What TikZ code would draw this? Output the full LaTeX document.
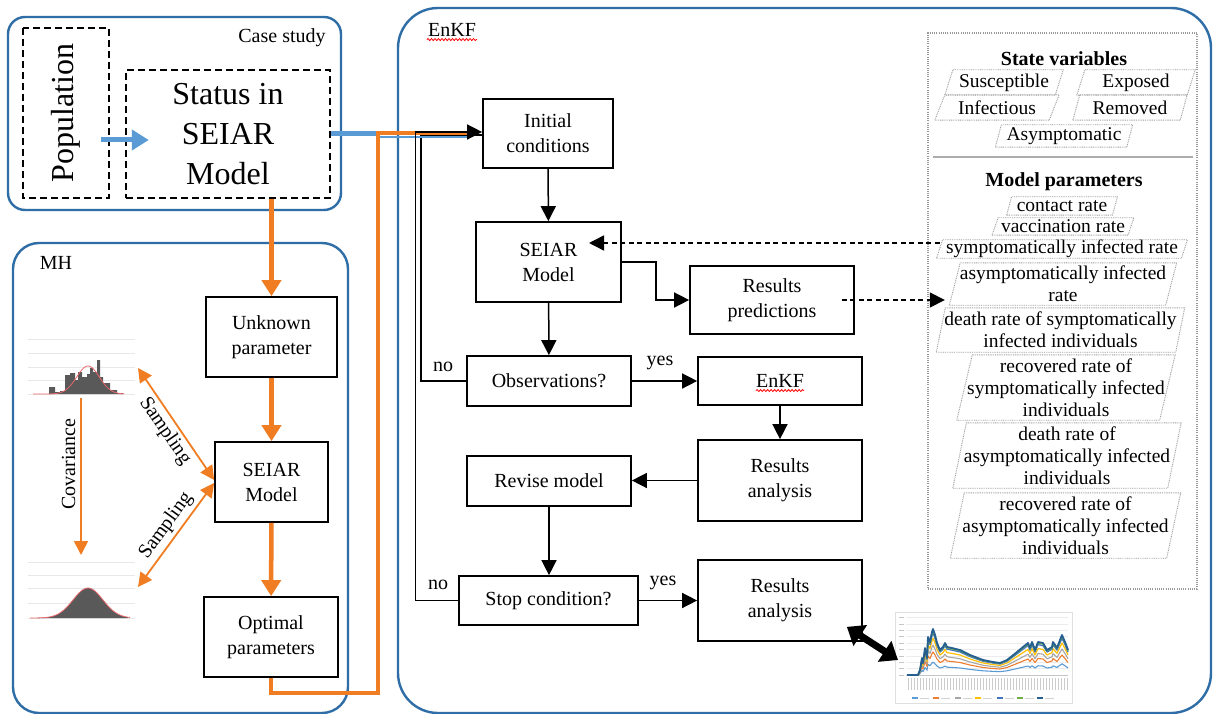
\documentclass[tikz,border=0pt]{standalone}
\usepackage{fontspec}
\setmainfont{Liberation Serif}
\usetikzlibrary{arrows.meta,calc,decorations.pathmorphing}
\definecolor{frameblue}{HTML}{2E6DA6}
\definecolor{flowblue}{HTML}{5B9BD5}
\definecolor{mhorange}{HTML}{F07D22}
\definecolor{histgray}{HTML}{595959}
\definecolor{fitred}{HTML}{E8676B}
\definecolor{gridgray}{HTML}{E8E8E8}
\definecolor{cs1}{HTML}{5B9BD5}
\definecolor{cs2}{HTML}{ED7D31}
\definecolor{cs3}{HTML}{A5A5A5}
\definecolor{cs4}{HTML}{FFC000}
\definecolor{cs5}{HTML}{4472C4}
\definecolor{cs6}{HTML}{70AD47}
\definecolor{cs7}{HTML}{255E91}
\newcommand\fs[2]{\fontsize{#1}{#2}\selectfont}
% slanted (parallelogram) tag: name, x, y, width, height, half slant, text
\newcommand\pgm[7]{%
  \node[ptxt, minimum width=#4pt, minimum height=#5pt] (#1) at (#2,#3) {#7};
  \draw[pline] ([xshift=-#6pt]#1.south west) -- ([xshift=#6pt]#1.north west)
    -- ([xshift=#6pt]#1.north east) -- ([xshift=-#6pt]#1.south east) -- cycle;}
\begin{document}
\begin{tikzpicture}[x=1pt,y=-1pt,
  frame/.style={draw=frameblue, line width=2.4pt},
  dashbox/.style={draw=black, line width=2.4pt, dash pattern=on 7pt off 4pt},
  box/.style={draw=black, line width=1.7pt, align=center, font=\fs{20}{25}, inner sep=1pt},
  lbl/.style={font=\fs{20}{24}, inner sep=1pt},
  flow/.style={draw=black, line width=1.5pt, -{Triangle[length=15pt,width=15pt]}},
  link/.style={draw=black, line width=1.5pt},
  dflow/.style={draw=black, line width=1.5pt, dash pattern=on 5pt off 3.5pt, -{Triangle[length=15pt,width=15pt]}},
  oflow/.style={draw=mhorange, line width=4.5pt, -{Triangle[length=16pt,width=19pt]}},
  othin/.style={draw=mhorange, line width=1.8pt, {Triangle[length=14pt,width=14pt]}-{Triangle[length=14pt,width=14pt]}},
  othinend/.style={draw=mhorange, line width=1.8pt, -{Triangle[length=14pt,width=14pt]}},
  bflow/.style={draw=flowblue, line width=5pt, -{Triangle[length=17pt,width=20pt]}},
  bigarrow/.style={draw=black, line width=7pt, {Triangle[length=16pt,width=24pt]}-{Triangle[length=16pt,width=24pt]}},
  pline/.style={draw=gray!75, line width=0.9pt, dash pattern=on 0.9pt off 0.9pt},
  ptxt/.style={inner sep=0pt, align=center, font=\fs{19.5}{22}},
  spell/.style={draw=red, line width=0.8pt, decorate, decoration={snake, amplitude=1pt, segment length=3.5pt}},
  hgrid/.style={draw=gridgray, line width=0.8pt}
]
\useasboundingbox (0,0) rectangle (1218,714);
\fill[white] (0,0) rectangle (1218,714);
\clip (0,0) rectangle (1218,714);

% ---------- outer frames ----------
\draw[frame, rounded corners=17pt] (8,17) rectangle (341,210);
\draw[frame, rounded corners=26pt] (13,243) rectangle (348,713);
\draw[frame, rounded corners=40pt] (398,8) rectangle (1211,713);
\node[lbl] (cslbl) at (282,38) {Case study};
\node[lbl] (mhlbl) at (56,263) {MH};
\node[lbl] (enkflbl) at (452,30) {EnKF};
\draw[spell] ([yshift=-3pt]enkflbl.base west) -- ([yshift=-3pt]enkflbl.base east);

% ---------- case study ----------
\node[dashbox, rotate=90, minimum width=170pt, minimum height=86pt, font=\fs{32}{38}] (pop) at (66,113) {Population};
\node[dashbox, minimum width=204pt, minimum height=128pt, align=center, inner sep=2pt, font=\fs{32}{40}] (st) at (228,134) {Status in\\SEIAR\\Model};
\draw[bflow] ($(pop.south)+(-9,27)$) -- ($(st.west)+(24,6)$);

% ---------- MH ----------
\node[box, minimum width=131pt, minimum height=80pt] (unk) at (271.5,337) {Unknown\\parameter};
\node[box, minimum width=113pt, minimum height=80pt] (mh) at (271.5,482) {SEIAR\\Model};
\node[box, minimum width=134pt, minimum height=80pt] (opt) at (271,637) {Optimal\\parameters};
\draw[oflow] (st.south -| unk.north) -- (unk.north);
\draw[oflow] (unk) -- (mh);
\draw[oflow] (mh) -- (opt);

% histograms with grid lines
\foreach \gy in {339,353,367,380,394} \draw[hgrid] (28,\gy) -- (135,\gy);
\foreach \gy in {562,575,588,603,618} \draw[hgrid] (28,\gy) -- (135,\gy);
\fill[histgray] (49,394) |- (55,387) |- (60,392) |- (65,391) |- (70,375) |- (75,373)
  |- (78,380) |- (82,372) |- (87,377) |- (90,374) |- (93,368) |- (97,372) |- (100,360)
  |- (103,377) |- (110,383) |- (117,390) |- (123,393) -- (123,394) -- cycle;
\draw[fitred, line width=0.8pt] plot[domain=33:124, samples=60, smooth]
  (\x, {394 - 28*exp(-((\x-88)/16)*((\x-88)/16))});
\fill[histgray] plot[domain=37:128, samples=50] (\x, {618 - 30*exp(-((\x-88)/21)*((\x-88)/21))})
  -- (128,618) -- (37,618) -- cycle;
\draw[fitred, line width=0.8pt] plot[domain=30:130, samples=60, smooth]
  (\x, {618 - 30*exp(-((\x-88)/21)*((\x-88)/21))});

\coordinate (h1) at (138,368);
\coordinate (h2) at (138,587);
\coordinate (c1) at (81,398);
\coordinate (c2) at (81,555);
\draw[othin] (h1) -- ([yshift=2pt]mh.west);
\draw[othin] ([yshift=-1pt]mh.west) -- (h2);
\draw[othinend] (c1) -- (c2);
\node[lbl, rotate=-55.5] (samp1) at (165,431) {Sampling};
\node[lbl, rotate=54] (samp2) at (166,526) {Sampling};
\node[lbl, rotate=90] (cov) at (68.5,464) {Covariance};

% ---------- EnKF flow ----------
\node[box, minimum width=130pt, minimum height=69pt] (init) at (548,133.5) {Initial\\conditions};
\node[box, minimum width=145pt, minimum height=80pt] (seiar) at (548.5,262) {SEIAR\\Model};
\node[box, minimum width=164pt, minimum height=50pt] (obs) at (549,381) {Observations?};
\node[box, minimum width=164pt, minimum height=68pt] (rp) at (772,300) {Results\\predictions};
\node[box, minimum width=164pt, minimum height=48pt] (enkf) at (780,381) {EnKF};
\draw[spell] ([xshift=-24pt,yshift=-3pt]enkf.base) -- ([xshift=24pt,yshift=-3pt]enkf.base);
\node[box, minimum width=164pt, minimum height=81pt] (ra1) at (780,480.5) {Results\\analysis};
\node[box, minimum width=164pt, minimum height=50pt] (rev) at (549,481) {Revise model};
\node[box, minimum width=179pt, minimum height=49pt] (stop) at (548.5,600.5) {Stop condition?};
\node[box, minimum width=164pt, minimum height=81pt] (ra2) at (780,600.5) {Results\\analysis};

% feed from the case study and the MH loop
\coordinate (bj) at (377,134);
\coordinate (oj) at (378,133.5);
\coordinate (be) at (470,137);
\coordinate (oe) at (469,133.5);
\draw[link] (obs.west) -- ++(-45,0) |- ([yshift=-1.5pt]init.west);
\draw[flowblue, line width=5pt] (st.east) -- (bj);
\draw[flowblue, line width=2pt] ($(bj)+(0,3)$) -- (be);
\draw[mhorange, line width=4pt] (opt.south) -- ++(0,15) -| (oj) -- (oe);
\draw[flow] (stop.west) -- ++(-42.5,0) |- ([yshift=1.5pt]init.west);

\draw[flow] (init) -- (seiar);
\draw[flow] (seiar) -- (obs);
\draw[flow] (seiar.east) -- ++(34,0) |- (rp.west);
\draw[flow] (obs) -- (enkf);
\draw[flow] (enkf) -- (ra1);
\draw[flow] (ra1.west) -- (rev.east |- ra1.west);
\draw[flow] (rev.south) -- (rev.south |- stop.north);
\draw[flow] (stop) -- (ra2);
\node[lbl] (no1) at (443,367) {no};
\node[lbl] (no2) at (438,585) {no};
\node[lbl] (yes1) at (660,363) {yes};
\node[lbl] (yes2) at (663,583) {yes};

% ---------- variables panel ----------
\node[draw=gray!80, line width=1.2pt, dash pattern=on 1pt off 1.2pt, minimum width=269pt, minimum height=556pt] (panel) at (1062.5,311) {};
\node[font=\bfseries\fs{20}{24}] (svt) at (1064,59) {State variables};
\pgm{sus}{1004}{82.5}{110}{25}{4}{Susceptible}
\pgm{exp}{1136}{82.5}{110}{25}{4}{Exposed}
\pgm{inf}{997}{107.5}{114}{25}{5}{Infectious}
\pgm{rem}{1130}{107.5}{107}{25}{3.5}{Removed}
\pgm{asy}{1064}{136}{131}{22}{3}{Asymptomatic}
\coordinate (sepL) at (933,157);
\coordinate (sepR) at (1193,157);
\draw[gray!65, line width=2.5pt] (sepL) -- (sepR);
\node[font=\bfseries\fs{20}{24}] (mpt) at (1064,182) {Model parameters};
\pgm{cr}{1062}{206}{105.5}{18}{2.5}{contact rate}
\pgm{vr}{1063}{226.5}{135.5}{17}{3}{vaccination rate}
\pgm{sr}{1062}{249}{244.5}{18}{3}{symptomatically infected rate}
\pgm{ar}{1063}{284}{216}{42}{5.5}{asymptomatically infected\\rate}
\pgm{ds}{1060.5}{330}{239}{44}{4.5}{death rate of symptomatically\\infected individuals}
\pgm{rs}{1066}{387.5}{202.5}{65}{7.75}{recovered rate of\\symptomatically infected\\individuals}
\pgm{da}{1067}{455.5}{214.5}{65}{6.75}{death rate of\\asymptomatically infected\\individuals}
\pgm{ra}{1065.5}{525.5}{216}{65}{7}{recovered rate of\\asymptomatically infected\\individuals}

\coordinate (sm) at (589,243);
\draw[dflow] (sr.west |- sm) -- (sm);
\draw[dflow] ([xshift=-13pt]rp.east) -- ([xshift=-10pt]ar.west |- rp.east);

% ---------- result chart ----------
\draw[gray!25, line width=0.8pt] (895,612) rectangle (1072,703);
\foreach \i in {1,...,9} \draw[gray!15, line width=0.5pt] (906,{675-6.4*\i}) -- (1068,{675-6.4*\i});
\foreach \i in {0,...,9} \draw[gray!45, line width=0.6pt] (899,{675-6.4*\i}) -- (904,{675-6.4*\i});
\draw[gray!45, line width=0.6pt] (906,675) -- (1068,675);
\foreach \xx in {908,911,...,1067} \draw[gray!40, line width=0.5pt] (\xx,678) -- (\xx,690);
\foreach \fac/\col/\lw in {0.28/cs1/1.1pt, 0.5/cs2/1.1pt, 0.65/cs3/1.1pt, 0.8/cs4/1.2pt, 0.92/cs5/1.3pt, 0.97/cs6/1.5pt, 1/cs7/1.8pt}
  \draw[draw=\col, line width=\lw, line join=round, shift={(0,675)}, yscale=\fac]
    plot coordinates {(907,0) (918,0) (920,-5) (922,-17) (923,-12) (925,-27) (927,-17) (928,-38)
      (930,-33) (932,-43) (933,-46) (935,-40) (937,-32) (940,-25) (943,-28) (945,-32) (947,-28)
      (952,-27) (960,-25) (970,-20) (983,-15) (993,-13) (1000,-12) (1007,-15) (1017,-23)
      (1023,-28) (1028,-32) (1030,-27) (1032,-33) (1035,-25) (1038,-33) (1043,-32) (1047,-25)
      (1052,-28) (1053,-33) (1057,-27) (1060,-35) (1062,-40) (1065,-33) (1068,-25)};
\foreach \lx/\col in {912/cs1, 933/cs2, 955/cs3, 975/cs4, 997/cs5, 1017/cs6, 1037/cs7} {
  \draw[\col, line width=1.2pt] (\lx,698) -- ++(6,0);
  \draw[gray!35, line width=1pt] (\lx+8,698) -- ++(9,0);
}
\coordinate (ca) at (898,660);
\draw[bigarrow] ($(ra2.south east)+(-16,-15)$) -- (ca);
\end{tikzpicture}
\end{document}
